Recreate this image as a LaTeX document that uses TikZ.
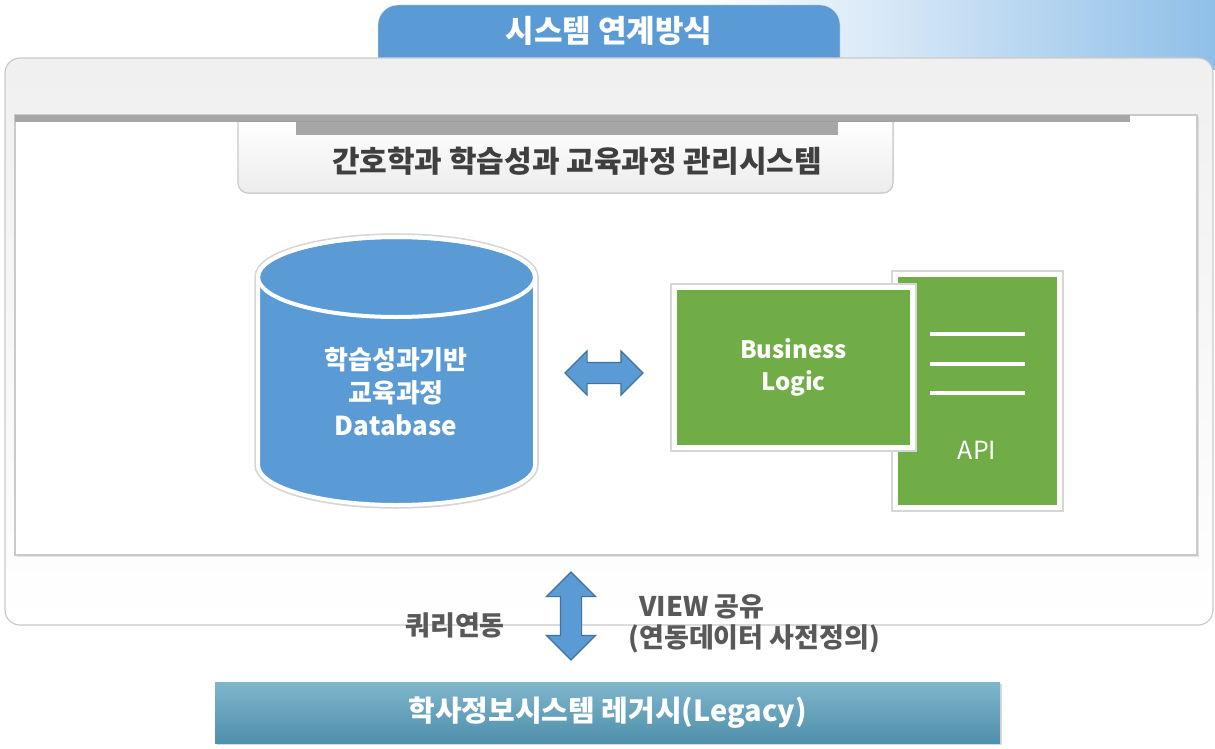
\documentclass[tikz,border=0pt]{standalone}
\usepackage{fontspec}
\setmainfont{Noto Sans CJK KR}
\usetikzlibrary{positioning, shapes.arrows, shadows}
\definecolor{tabblue}{HTML}{5B9BD5}
\definecolor{arrowline}{HTML}{41719C}
\definecolor{bizgreen}{HTML}{70AD47}
\definecolor{bargray}{HTML}{A6A6A6}
\definecolor{framegray}{HTML}{CACACA}
\definecolor{textgray}{HTML}{595959}
\definecolor{titlegray}{HTML}{3F3F3F}
\definecolor{legtop}{HTML}{7FB6CC}
\definecolor{legbot}{HTML}{4F8FAB}
\definecolor{skyblue}{HTML}{8FBFE8}
\tikzset{
panel/.style={draw=framegray, line width=1.2pt},
halo/.style={preaction={draw=black!16, line width=8.5pt}},
whitetext/.style={text=white, align=center, font=\bfseries\fontsize{26}{33}\selectfont},
graytext/.style={text=textgray, font=\bfseries\fontsize{27}{31}\selectfont},
greenbox/.style={fill=bizgreen, draw=white, line width=5pt, halo},
linkarrow/.style={double arrow, fill=tabblue, draw=arrowline, line width=1.2pt, inner sep=10pt},
}

\begin{document}
\begin{tikzpicture}[x=1pt, y=-1pt]
    \useasboundingbox (0,0) rectangle (1215,749);

    %background and title tab
    \shade[left color=white, right color=skyblue] (700,0) rectangle (1215,70);
    \draw[fill=tabblue, draw=white!80!gray, rounded corners=20pt] (378,62) -- (378,5) -- (840,5) -- (840,62);
    \node[whitetext, font=\bfseries\fontsize{31}{36}\selectfont] (tabtitle) at (609,31) {시스템 연계방식};

    %outer panel
    \draw[panel, top color=gray!12, bottom color=white, rounded corners=15pt] (5,58) rectangle (1213,625);

    %inner box
    \draw[panel, fill=white, drop shadow={opacity=0.2, shadow xshift=2pt, shadow yshift=-2pt}] (15,115) rectangle (1197,555);
    \fill[bargray] (15,115) rectangle (1130,122);

    %subtitle box
    \filldraw[panel, top color=white, bottom color=gray!15, rounded corners=10pt] (238,122) -- (238,193) -- (893,193) -- (893,122);
    \fill[bargray] (296,122) rectangle (838,135);
    \node[text=titlegray, font=\bfseries\fontsize{30}{36}\selectfont] (subtitle) at (577,161) {간호학과 학습성과 교육과정 관리시스템};

    %database cylinder
    \draw[fill=tabblue, draw=white, line width=4pt, preaction={draw=black!16, line width=7.5pt}]
        (258,277) -- (258,465) arc[start angle=180, end angle=360, x radius=138.5pt, y radius=40pt]
        -- (535,277) arc[start angle=0, end angle=180, x radius=138.5pt, y radius=40pt] -- cycle;
    \draw[white, line width=4pt] (396.5,277) ellipse[x radius=138.5pt, y radius=40pt];
    \node[whitetext] (dbtext) at (396,392) {학습성과기반\\교육과정\\Database};

    %arrow between database and logic
    \node[linkarrow, minimum height=78pt, minimum width=43pt, double arrow head extend=11.5pt] (dbarrow) at (604,373) {};

    %API page and business logic
    \node[greenbox, minimum width=164pt, minimum height=233pt] (api) at (977.5,391) {};
    \foreach \y in {334,364,393}
        \draw[white, line width=4pt] (930,\y) -- (1025,\y);
    \node[text=white, font=\fontsize{25}{30}\selectfont] (apitext) at (977,450) {API};
    \node[greenbox, whitetext, font=\bfseries\fontsize{24}{32}\selectfont, minimum width=238pt, minimum height=160pt] (biz) at (793.5,367.5) {Business\\Logic};

    %link to legacy
    \node[linkarrow, rotate=90, minimum height=88pt, minimum width=48pt, double arrow head extend=14pt] (syncarrow) at (571,616) {};
    \node[graytext] (query) at (455,625) {쿼리연동};
    \node[graytext, anchor=west] (viewshare) at (636,607) {VIEW 공유};
    \node[graytext, anchor=west] (viewdef) at (625,639) {(연동데이터 사전정의)};

    %legacy bar
    \node[top color=legtop, bottom color=legbot, minimum width=785pt, minimum height=61pt, drop shadow={opacity=0.3, shadow xshift=2pt, shadow yshift=-2pt}, text=white, font=\bfseries\fontsize{29}{34}\selectfont] (legacy) at (607.5,712.5) {학사정보시스템 레거시(Legacy)};
\end{tikzpicture}
\end{document}
